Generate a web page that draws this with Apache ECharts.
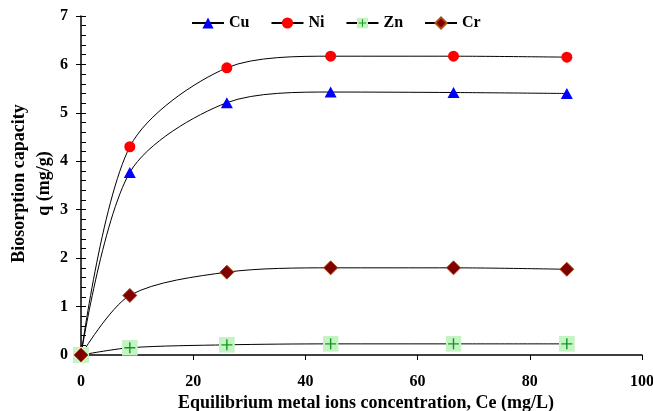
<!DOCTYPE html>
<html>
<head>
<meta charset="utf-8">
<script src="https://cdn.jsdelivr.net/npm/echarts@6/dist/echarts.min.js"></script>
<style>
  html, body { margin: 0; padding: 0; background: #fff; }
  #chart { width: 653px; height: 411px; }
</style>
</head>
<body>
<div id="chart"></div>
<script>
// Equilibrium concentration Ce (mg/L) at each measured point
var ceValues = [0, 8.7, 26.0, 44.5, 66.4, 86.6];

// Biosorption capacity q (mg/g) for each metal
var cuValues = [0, 3.77, 5.21, 5.43, 5.42, 5.40];
var niValues = [0, 4.30, 5.93, 6.17, 6.17, 6.15];
var znValues = [0, 0.15, 0.21, 0.23, 0.23, 0.23];
var crValues = [0, 1.23, 1.71, 1.80, 1.80, 1.77];

var seriesNames = ['Cu', 'Ni', 'Zn', 'Cr'];
var xTitle = 'Equilibrium metal ions concentration, Ce (mg/L)';
var yTitle = 'Biosorption capacity\nq (mg/g)';

function pairs(ys) {
  return ceValues.map(function (x, i) { return [x, ys[i]]; });
}

var FONT = '"Liberation Serif", "Times New Roman", serif';

// Light green square with a green cross
var znSymbol = 'image://data:image/svg+xml;charset=utf-8,' + encodeURIComponent(
  "<svg xmlns='http://www.w3.org/2000/svg' width='16' height='16' viewBox='0 0 16 16'>" +
  "<rect x='0' y='0' width='16' height='16' fill='#c4f4c4'/>" +
  "<path d='M8 2.5V13.5M2.5 8H13.5' stroke='#12991a' stroke-width='1.4' fill='none'/>" +
  "</svg>");

function lineSeries(name, ys, symbol, size, itemStyle) {
  return {
    name: name,
    type: 'line',
    data: pairs(ys),
    smooth: 0.3,
    symbol: symbol,
    symbolSize: size,
    showAllSymbol: true,
    lineStyle: { color: '#000', width: 1 },
    itemStyle: itemStyle,
    emphasis: { disabled: true },
    animation: false
  };
}

var chart = echarts.init(document.getElementById('chart'), null, { renderer: 'canvas' });

var axisTextStyle = { color: '#000', fontFamily: FONT, fontWeight: 'bold', fontSize: 16 };

chart.setOption({
  animation: false,
  backgroundColor: '#fff',
  grid: { left: 81, right: 11, top: 16, bottom: 56, containLabel: false, outerBoundsMode: 'none' },
  legend: {
    top: 10,
    left: 186,
    itemWidth: 32,
    itemHeight: 14,
    itemGap: 21,
    data: seriesNames,
    textStyle: { color: '#000', fontFamily: FONT, fontWeight: 'bold', fontSize: 16, padding: [0, 0, 0, 0] }
  },
  xAxis: {
    type: 'value',
    min: 0,
    max: 100,
    interval: 20,
    name: xTitle,
    nameLocation: 'middle',
    nameGap: 39,
    nameMoveOverlap: false,
    nameTextStyle: { color: '#000', fontFamily: FONT, fontWeight: 'bold', fontSize: 18, padding: [0, 0, 0, 9] },
    axisLine: { show: true, lineStyle: { color: '#000', width: 1.5 } },
    axisTick: { show: true, inside: false, length: 5, lineStyle: { color: '#000', width: 1 } },
    axisLabel: Object.assign({ margin: 19 }, axisTextStyle),
    splitLine: { show: false }
  },
  yAxis: [
    {
      type: 'value',
      min: 0,
      max: 7,
      interval: 1,
      name: yTitle,
      nameLocation: 'middle',
      nameRotate: 90,
      nameGap: 24,
      nameMoveOverlap: false,
      nameTextStyle: { color: '#000', fontFamily: FONT, fontWeight: 'bold', fontSize: 18, lineHeight: 25, padding: [0, 0, 0, 4] },
      axisLine: { show: true, lineStyle: { color: '#000', width: 1.5 } },
      axisTick: { show: true, inside: false, length: 5, lineStyle: { color: '#000', width: 1 } },
      axisLabel: Object.assign({ margin: 13 }, axisTextStyle),
      splitLine: { show: false }
    },
    {
      // inner tick marks with minor divisions
      type: 'value',
      position: 'left',
      min: 0,
      max: 7,
      interval: 1,
      axisLine: { show: false },
      axisTick: { show: true, inside: true, length: 5, lineStyle: { color: '#000', width: 1 } },
      minorTick: { show: true, splitNumber: 5, length: 5, lineStyle: { color: '#000', width: 1 } },
      axisLabel: { show: false },
      splitLine: { show: false }
    }
  ],
  series: [
    lineSeries('Cu', cuValues, 'triangle', [12, 11], { color: '#0000ff' }),
    lineSeries('Ni', niValues, 'circle', 11, { color: '#ff0000' }),
    lineSeries('Zn', znValues, znSymbol, 16, { color: '#c4f4c4' }),
    lineSeries('Cr', crValues, 'diamond', 14, { color: '#800000', borderColor: '#a84a10', borderWidth: 1 })
  ]
});
</script>
</body>
</html>
